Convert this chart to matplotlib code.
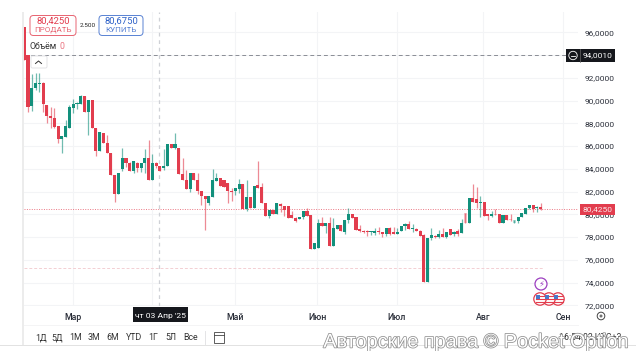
import numpy as np
import matplotlib
matplotlib.use('Agg')
import matplotlib.pyplot as plt
import matplotlib.patheffects as pe
from matplotlib.patches import FancyBboxPatch, Circle, Rectangle

plt.rcParams['font.family'] = ['Roboto', 'DejaVu Sans']

# daily candles
opens = [96.46, 94.0, 89.52, 91.1, 91.45, 91.54, 89.6, 88.64, 88.46, 87.76,
         86.62, 86.79, 87.58, 89.34, 89.69, 89.69, 90.4, 88.99, 90.04, 87.58,
         85.56, 87.14, 86.26, 85.39, 83.45, 81.78, 83.98, 84.95, 84.51, 83.8,
         84.51, 84.07, 84.51, 84.95, 83.01, 84.51, 84.24, 84.07, 84.24, 86.18,
         85.82, 85.82, 83.54, 83.01, 82.22, 83.63, 83.01, 82.04, 81.6, 80.99,
         81.52, 82.92, 83.19, 83.01, 82.75, 82.04, 82.04, 82.22, 82.66, 80.46,
         81.52, 80.55, 82.57, 82.4, 80.99, 79.85, 80.37, 80.02, 80.9, 80.73,
         80.73, 79.94, 79.67, 79.58, 79.76, 80.29, 79.94, 76.95, 77.03, 79.23,
         78.97, 79.23, 77.21, 78.7, 79.06, 78.44, 79.5, 80.02, 79.76, 78.7,
         78.53, 78.5, 78.4, 78.35, 78.53, 78.44, 78.27, 78.79, 78.44, 78.27,
         78.53, 78.97, 79.14, 78.7, 78.7, 78.53, 78.18, 74.05, 77.91, 78.09,
         78.0, 78.27, 78.0, 78.7, 78.27, 78.53, 78.35, 80.11, 79.23, 81.43,
         81.34, 80.99, 81.08, 80.02, 79.85, 80.02, 80.02, 79.23, 79.94, 79.6,
         79.23, 79.41, 79.76, 80.02, 80.55, 80.81, 80.55, 80.64]
highs = [96.46, 94.0, 92.33, 92.42, 92.42, 91.6, 89.6, 89.43, 89.34, 87.76,
         86.88, 88.29, 89.6, 90.13, 89.87, 90.48, 90.4, 90.04, 90.04, 87.58,
         87.23, 87.14, 86.97, 85.39, 83.45, 83.63, 85.82, 84.95, 84.6, 84.68,
         84.6, 84.51, 85.74, 86.53, 85.3, 84.6, 84.24, 85.74, 86.18, 86.18,
         87.14, 85.82, 84.95, 83.9, 83.63, 83.63, 83.63, 82.04, 81.6, 81.6,
         83.98, 83.63, 83.19, 83.01, 82.75, 82.31, 82.31, 83.1, 82.66, 83.01,
         81.52, 82.48, 84.68, 82.75, 80.99, 80.37, 80.37, 80.99, 81.0, 80.73,
         80.73, 80.3, 79.8, 79.76, 80.29, 80.55, 79.94, 77.47, 79.58, 79.76,
         79.23, 79.76, 79.67, 79.06, 79.06, 79.5, 80.55, 80.02, 79.76, 79.06,
         78.6, 78.6, 78.55, 78.79, 78.9, 78.44, 78.79, 78.85, 78.9, 78.79,
         78.97, 79.23, 79.41, 79.14, 78.8, 78.6, 78.3, 77.91, 78.79, 78.2,
         78.62, 78.79, 78.44, 78.7, 78.5, 78.7, 79.58, 80.11, 81.43, 82.66,
         82.4, 81.6, 81.08, 80.02, 80.29, 80.46, 80.02, 79.94, 79.94, 80.02,
         79.5, 79.76, 80.11, 80.55, 80.81, 80.81, 80.73, 80.99]
lows = [93.6, 88.99, 89.08, 90.92, 90.75, 89.0, 88.02, 87.58, 87.6, 86.26,
        85.39, 86.79, 87.58, 88.9, 89.25, 89.69, 88.99, 86.97, 87.58, 85.12,
        85.56, 86.26, 85.39, 83.45, 81.08, 81.78, 83.8, 84.2, 83.8, 83.63,
        83.7, 83.7, 83.63, 83.01, 83.01, 84.1, 83.8, 83.9, 84.24, 85.82,
        85.7, 83.54, 83.01, 82.22, 81.95, 83.01, 81.8, 80.81, 78.62, 80.81,
        81.52, 82.92, 82.48, 82.4, 80.99, 81.17, 81.69, 81.9, 80.46, 80.29,
        80.55, 80.55, 82.31, 80.99, 79.85, 79.7, 80.02, 80.02, 80.2, 79.85,
        79.67, 79.67, 79.3, 79.58, 79.6, 79.85, 76.95, 76.95, 77.03, 78.97,
        78.35, 77.21, 77.21, 78.7, 78.53, 78.27, 79.23, 79.67, 78.62, 78.44,
        78.35, 78.1, 78.2, 78.2, 78.3, 78.0, 78.1, 78.2, 78.27, 78.27,
        78.5, 78.62, 78.7, 78.44, 78.53, 78.09, 74.05, 74.05, 77.7, 77.9,
        77.9, 78.0, 77.9, 78.18, 78.1, 78.1, 78.35, 79.23, 79.23, 81.08,
        80.55, 79.76, 79.85, 79.5, 79.76, 79.9, 79.23, 79.23, 79.5, 79.45,
        79.23, 79.2, 79.76, 80.02, 80.5, 80.2, 80.2, 80.4]
closes = [93.6, 89.43, 91.1, 91.54, 91.54, 89.69, 88.64, 88.46, 87.67, 86.62,
          86.88, 87.76, 89.43, 89.69, 89.78, 90.4, 88.99, 90.04, 87.58, 85.56,
          87.23, 86.26, 85.39, 83.45, 81.78, 83.63, 84.95, 84.51, 83.8, 84.68,
          84.07, 84.51, 84.95, 83.01, 84.51, 84.24, 83.8, 84.24, 86.18, 85.82,
          86.18, 83.54, 83.01, 82.22, 83.63, 83.01, 82.04, 81.6, 81.34, 81.6,
          83.01, 83.19, 82.48, 82.4, 82.04, 81.95, 82.31, 82.66, 80.46, 81.52,
          80.55, 82.48, 82.31, 80.99, 79.85, 80.37, 80.02, 80.99, 80.73, 80.37,
          79.67, 79.67, 79.41, 79.76, 80.29, 79.85, 76.95, 77.47, 79.23, 78.97,
          79.23, 77.21, 78.79, 79.06, 78.53, 79.5, 80.02, 79.67, 78.62, 78.53,
          78.44, 78.4, 78.5, 78.53, 78.44, 78.27, 78.79, 78.27, 78.27, 78.44,
          78.97, 79.14, 78.7, 78.79, 78.53, 78.09, 74.05, 77.91, 78.18, 78.0,
          78.27, 78.0, 78.44, 78.18, 78.44, 78.27, 79.23, 79.23, 81.43, 81.08,
          80.99, 81.08, 79.85, 79.85, 80.02, 79.94, 79.23, 79.94, 79.5, 79.5,
          79.5, 79.76, 80.11, 80.55, 80.81, 80.46, 80.64, 80.46]
faint = [117, 125, 129, 130]

price_ticks = [96, 94, 92, 90, 88, 86, 84, 82, 80, 78, 76, 74, 72]
month_ticks = [12, 33, 55, 76.7, 97.9, 120.7, 141.9]
month_labels = ['Мар', '', 'Май', 'Июн', 'Июл', 'Авг', 'Сен']
last_price = 80.425
alert_price = 94.001
pale_level = 75.3
range_buttons = ['1Д', '5Д', '1М', '3М', '6М', 'YTD', '1Г', '5Л', 'Все']
button_x = [41, 57, 76, 94, 113, 134, 153, 171, 191]

RED = '#e23d4e'
GREEN = '#12907c'
GRID = '#f3f4f6'
INK = '#2a2e39'

fig = plt.figure(figsize=(6.36, 3.51), dpi=100)
ax = fig.add_axes([24 / 636, 45 / 351, 554 / 636, 294 / 351])

x = np.arange(len(opens)) - 1
o = np.array(opens)
h = np.array(highs)
l = np.array(lows)
c = np.array(closes)
colors = [GREEN if c[i] >= o[i] else RED for i in range(len(o))]
alphas = [0.3 if i in faint else 1.0 for i in range(len(o))]

ax.vlines(x, l, h, colors=colors, linewidth=0.9, alpha=0.6, zorder=3)
bars = ax.bar(x, np.abs(c - o), bottom=np.minimum(o, c), width=0.82, color=colors, linewidth=0, zorder=4)
for b, a in zip(bars, alphas):
    b.set_alpha(a)

ax.set_xlim(-1.06, 145.9)
ax.set_ylim(71.94, 97.78)
ax.set_yticks(price_ticks)
# the 94 label sits under the alert tag, so it stays empty
ax.set_yticklabels(['' if p == 94 else f'{p},0000' for p in price_ticks])
ax.set_xticks(month_ticks)
ax.set_xticklabels(month_labels, fontweight='medium')
ax.yaxis.tick_right()
ax.tick_params(axis='y', length=0, pad=5, labelsize=6.0, labelcolor=INK)
ax.tick_params(axis='x', length=0, pad=5, labelsize=6.3, labelcolor=INK)
ax.grid(True, color=GRID, linewidth=0.8)
ax.set_axisbelow(True)
for s in ax.spines.values():
    s.set_visible(False)

# price lines and crosshair
ax.axhline(last_price, color=RED, linewidth=0.7, linestyle=(0, (1, 1.5)), alpha=0.7, zorder=2)
ax.axhline(alert_price, color='#8a8d96', linewidth=0.7, linestyle=(0, (4, 3)), zorder=2)
ax.plot([-1, 136.5], [pale_level, pale_level], color='#f3cfd3', linewidth=0.7, linestyle=(0, (3, 2)), zorder=2)
ax.axvline(34.7, color='#cfd1d6', linewidth=0.9, linestyle=(0, (3, 3)), zorder=2)

# interface parts drawn in pixel coordinates
ui = fig.add_axes([0, 0, 1, 1], facecolor='none')
ui.set_xlim(0, 636)
ui.set_ylim(351, 0)
ui.axis('off')

ui.add_patch(Rectangle((22, 12), 2, 333, color='#ececec', linewidth=0))
ui.add_patch(Rectangle((0, 345), 636, 1, color='#e2e2e2', linewidth=0))
ui.plot([24, 578], [325, 325], color='#f4f4f5', linewidth=0.7)

for bx, bw, col, price, label in [(30, 46, RED, '80,4250', 'ПРОДАТЬ'), (99, 44, '#2f62c8', '80,6750', 'КУПИТЬ')]:
    ui.add_patch(FancyBboxPatch((bx, 15.5), bw, 20, boxstyle='round,pad=0,rounding_size=3.5',
                                facecolor='white', edgecolor=col, linewidth=0.7, alpha=0.8, zorder=5))
    ui.text(bx + bw / 2, 21, price, color=col, fontsize=6.8, ha='center', va='center', zorder=6)
    ui.text(bx + bw / 2, 30, label, color=col, fontsize=5.8, ha='center', va='center', alpha=0.8, zorder=6)
ui.text(87.5, 25.5, '2.500', color='#222222', fontsize=4.6, ha='center', va='center')
ui.text(30, 46.5, 'Объём', color='#333333', fontsize=6.3, ha='left', va='center')
ui.text(62, 46.5, '0', color=RED, fontsize=6.3, ha='center', va='center', alpha=0.7)
ui.add_patch(FancyBboxPatch((31, 56), 16, 12, boxstyle='round,pad=0,rounding_size=1.5',
                            facecolor='white', edgecolor='#e3e3e6', linewidth=0.7, zorder=5))
ui.plot([35.5, 38.5, 41.5], [63.5, 61, 63.5], color='#333333', linewidth=0.7, zorder=6)

# axis tags
ui.add_patch(Rectangle((566, 49), 49, 13, color='#15171c', linewidth=0, zorder=5))
ui.plot([579.5, 579.5], [49, 62], color='#666666', linewidth=0.5, zorder=6)
ui.add_patch(Circle((573, 55.5), 4.2, facecolor='none', edgecolor='white', linewidth=0.6, zorder=6))
ui.plot([571, 575], [55.5, 55.5], color='white', linewidth=0.6, zorder=6)
ui.text(597.5, 55.5, '94,0010', color='white', fontsize=6.0, ha='center', va='center', zorder=6)
ui.add_patch(Rectangle((580, 203.5), 35, 11.5, color=RED, linewidth=0, zorder=5))
ui.text(597.5, 209.3, '80,4250', color='#fbe6e8', fontsize=6.0, ha='center', va='center', zorder=6)
ui.add_patch(Rectangle((133, 307), 55, 15, color='#15171c', linewidth=0, zorder=5))
ui.text(160, 316, "чт 03 Апр '25", color='white', fontsize=6.1, ha='center', va='center', zorder=6)

# event markers
ui.add_patch(Circle((541, 284), 6, facecolor='white', edgecolor='#9c3fc0', linewidth=0.9, zorder=5))
ui.text(541, 284, '⚡', color='#9c3fc0', fontsize=6, ha='center', va='center', zorder=6)
for fx in [558, 549, 540]:
    ui.add_patch(Circle((fx, 299), 6.2, facecolor='white', edgecolor=RED, linewidth=0.9, zorder=5))
    for fy in [296, 299, 302]:
        ui.plot([fx - 4.5, fx + 4.5], [fy, fy], color=RED, linewidth=0.8, zorder=6)
    ui.add_patch(Rectangle((fx - 4, 295), 4, 3.5, color='#4a78c8', linewidth=0, zorder=7))

# settings icon and range row
ui.add_patch(Circle((601, 316), 3.8, facecolor='white', edgecolor='#444444', linewidth=0.7))
ui.add_patch(Circle((601, 316), 1.0, facecolor='white', edgecolor='#444444', linewidth=0.6))
for name, bx in zip(range_buttons, button_x):
    ui.text(bx, 337.5, name, color='#333333', fontsize=6.3, ha='center', va='center')
ui.plot([204.5, 204.5], [331, 344], color='#e4e4e6', linewidth=0.7)
ui.add_patch(Rectangle((214, 332), 10, 10.5, facecolor='none', edgecolor='#444444', linewidth=0.6))
ui.plot([214, 224], [335, 335], color='#444444', linewidth=0.6)

ui.text(590, 337.5, '16:54:02 UTC+3', color='#333333', fontsize=6.3, ha='center', va='center', zorder=7)
ui.text(476.5, 342, 'Авторские права © Pocket Option', color='white', fontsize=14.3, ha='center', va='center',
        family='Liberation Sans', zorder=8,
        path_effects=[pe.withStroke(linewidth=1.1, foreground='#8f8f8f')])

plt.savefig('out.png', dpi=100)
